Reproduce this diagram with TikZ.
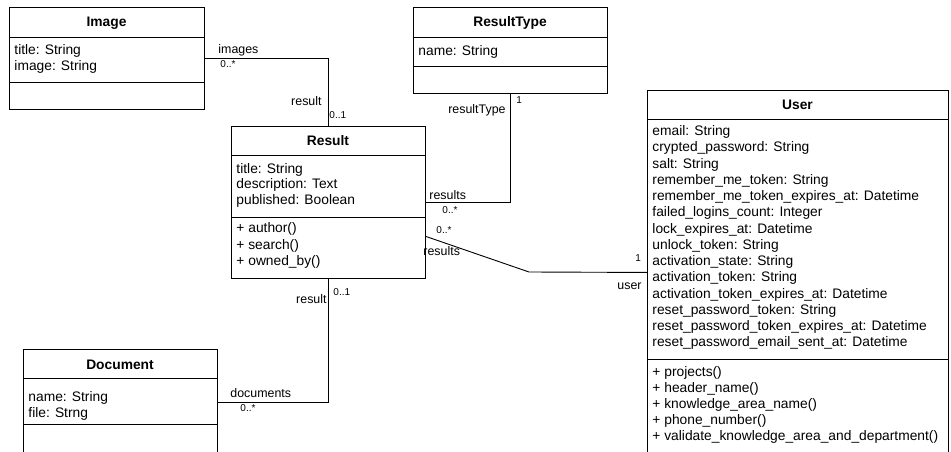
\documentclass[tikz,border=0pt]{standalone}
\usepackage{fontspec}
\setmainfont{Liberation Sans}

\begin{document}
\begin{tikzpicture}[x=1pt,y=-1pt,line width=0.9pt]
    \useasboundingbox (0,0) rectangle (951,452);
    \clip (0,0) rectangle (951,452);

    % class boxes
    \begin{scope}[every node/.style={draw,line width=0.9pt,inner sep=0pt,anchor=north west}]
      \node[minimum width=195pt,minimum height=102pt] (image) at (9,7) {};
      \node[minimum width=194pt,minimum height=86pt] (resulttype) at (413,7) {};
      \node[minimum width=194pt,minimum height=152pt] (result) at (231,126) {};
      \node[minimum width=301pt,minimum height=364pt] (user) at (647,90) {};
      \node[minimum width=194pt,minimum height=106pt] (document) at (23,349) {};
    \end{scope}

    % compartments
    \foreach \n/\a/\b in {image/30/75, resulttype/30/59, result/29/91, user/29/269, document/29/75} {
      \draw ([yshift=-\a pt]\n.north west) -- ([yshift=-\a pt]\n.north east);
      \draw ([yshift=-\b pt]\n.north west) -- ([yshift=-\b pt]\n.north east);
    }

    % class names
    \begin{scope}[every node/.style={anchor=base,inner sep=0pt,font=\fontsize{13.8}{16}\selectfont\bfseries}]
      \node (image-t) at (106.5,27) {Image};
      \node (resulttype-t) at (510,27) {ResultType};
      \node (result-t) at (328,145.5) {Result};
      \node (user-t) at (797.5,109.5) {User};
      \node (document-t) at (120,369) {Document};
    \end{scope}

    % attributes and operations
    \begin{scope}[every node/.style={anchor=base west,inner sep=0pt,font=\fontsize{13.8}{16}\selectfont}]
      \foreach \t [count=\i] in {title: String, image: String}
        \node (image-a\i) at (14,38.1+16.4*\i) {\t};
      \node (resulttype-a1) at (418,55.5) {name: String};
      \foreach \t [count=\i] in {title: String, description: Text, published: Boolean}
        \node (result-a\i) at (236,157.8+15.5*\i) {\t};
      \foreach \t [count=\i] in {+ author(), + search(), + owned\_by()}
        \node (result-o\i) at (236,216.7+16.2*\i) {\t};
      \foreach \t [count=\i] in {email: String, crypted\_password: String, salt: String,
          remember\_me\_token: String, remember\_me\_token\_expires\_at: Datetime,
          failed\_logins\_count: Integer, lock\_expires\_at: Datetime, unlock\_token: String,
          activation\_state: String, activation\_token: String,
          activation\_token\_expires\_at: Datetime, reset\_password\_token: String,
          reset\_password\_token\_expires\_at: Datetime,
          reset\_password\_email\_sent\_at: Datetime}
        \node (user-a\i) at (652,119.25+16.25*\i) {\t};
      \foreach \t [count=\i] in {+ projects(), + header\_name(), + knowledge\_area\_name(),
          + phone\_number(), + validate\_knowledge\_area\_and\_department()}
        \node (user-o\i) at (652,360.7+16*\i) {\t};
      \foreach \t [count=\i] in {name: String, file: Strng}
        \node (document-a\i) at (28,385.7+16*\i) {\t};
    \end{scope}

    % associations
    \coordinate (userbend) at (529,272);
    \draw (image.east) -| (result.north);
    \draw (resulttype.south) |- (result.east);
    \draw ([yshift=-34pt]result.east) -- (userbend) -- (user.west);
    \draw (result.south) |- (document.east);

    % role names
    \begin{scope}[every node/.style={inner sep=0pt,font=\fontsize{12.4}{14}\selectfont}]
      \node[anchor=base west] (images-r) at (218,54) {images};
      \node[anchor=base east] (result-r1) at (322,106) {result};
      \node[anchor=base east] (resulttype-r) at (506,113.5) {resultType};
      \node[anchor=base west] (results-r1) at (429,199.5) {results};
      \node[anchor=base west] (results-r2) at (423,255) {results};
      \node[anchor=base east] (user-r) at (642,289.5) {user};
      \node[anchor=base east] (result-r2) at (327,303) {result};
      \node[anchor=base west] (documents-r) at (230,397.8) {documents};
    \end{scope}

    % multiplicities
    \begin{scope}[every node/.style={anchor=base west,inner sep=0pt,font=\fontsize{10}{12}\selectfont}]
      \node (images-m) at (220,67) {0..*};
      \node (result-m1) at (329,118.5) {0..1};
      \node (resulttype-m) at (516,103) {1};
      \node (results-m1) at (442,213) {0..*};
      \node (results-m2) at (436,233) {0..*};
      \node (user-m) at (635,261) {1};
      \node (result-m2) at (333,295) {0..1};
      \node (documents-m) at (240,411.5) {0..*};
    \end{scope}
\end{tikzpicture}
\end{document}
